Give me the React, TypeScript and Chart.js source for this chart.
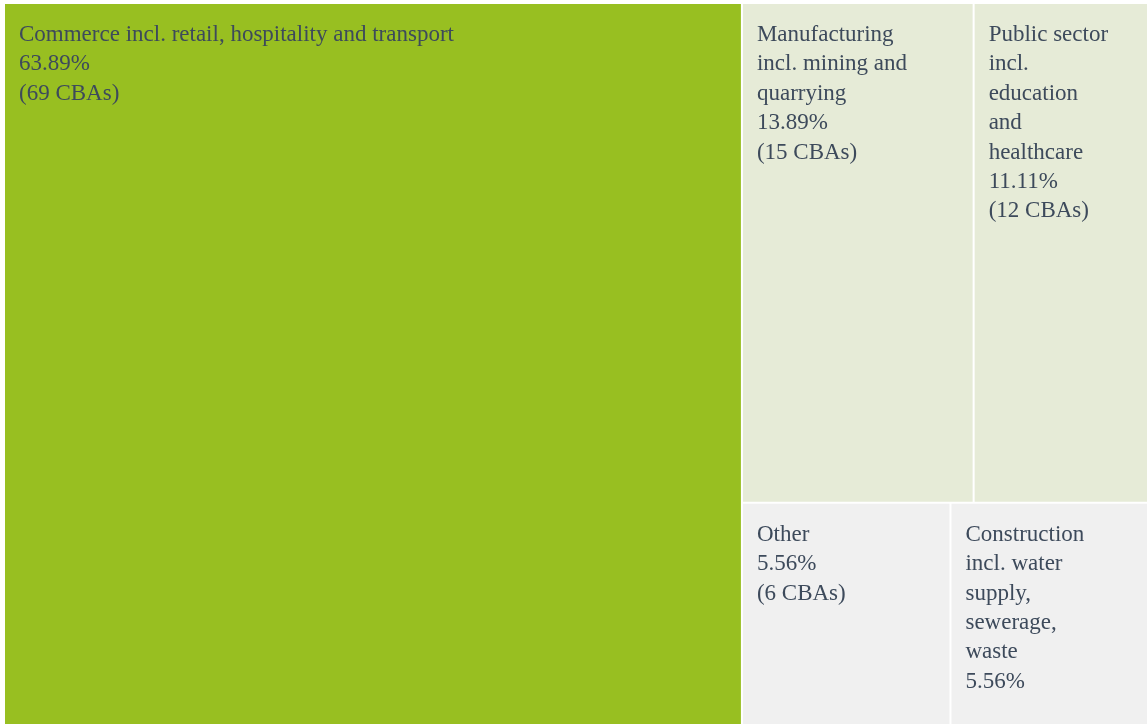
import React, { useEffect, useRef } from "react";
import { Chart, registerables, DatasetController } from "chart.js";

Chart.register(...registerables);

// ---- data ----
const categories: string[] = [
  "Commerce incl. retail, hospitality and transport",
  "Manufacturing incl. mining and quarrying",
  "Public sector incl. education and healthcare",
  "Other",
  "Construction incl. water supply, sewerage, waste",
];
const cbaCounts: number[] = [69, 15, 12, 6, 6];
const cellColors: string[] = ["#98BF21", "#E6EBD7", "#E6EBD7", "#F0F0F0", "#F0F0F0"];

// layout space (pixel-like units); the visible x range is slightly narrower (cropped chart)
const LAYOUT_W = 1155;
const LAYOUT_H = 722;
const VISIBLE_W = 1143;

const FONT = "23px 'Liberation Serif', 'Times New Roman', serif";
const TEXT_COLOR = "#3d4a5b";
const LINE_H = 29.4;
const PAD_X = 15;
const FIRST_LINE = 32;

type Rect = { x0: number; y0: number; x1: number; y1: number };

// d3-style squarified treemap (golden ratio)
function squarify(values: number[], X0: number, Y0: number, X1: number, Y1: number): Rect[] {
  const ratio = (1 + Math.sqrt(5)) / 2;
  const rects: Rect[] = values.map(() => ({ x0: 0, y0: 0, x1: 0, y1: 0 }));
  let x0 = X0, y0 = Y0;
  const x1 = X1, y1 = Y1;
  let value = values.reduce((a, b) => a + b, 0);
  let i0 = 0, i1 = 0;
  const n = values.length;
  while (i0 < n) {
    const dx = x1 - x0, dy = y1 - y0;
    let sumValue = values[i1++];
    let minValue = sumValue, maxValue = sumValue;
    const alpha = Math.max(dy / dx, dx / dy) / (value * ratio);
    let beta = sumValue * sumValue * alpha;
    let minRatio = Math.max(maxValue / beta, beta / minValue);
    for (; i1 < n; ++i1) {
      const nv = values[i1];
      sumValue += nv;
      if (nv < minValue) minValue = nv;
      if (nv > maxValue) maxValue = nv;
      beta = sumValue * sumValue * alpha;
      const newRatio = Math.max(maxValue / beta, beta / minValue);
      if (newRatio > minRatio) { sumValue -= nv; break; }
      minRatio = newRatio;
    }
    if (dx < dy) {
      const yk = y0 + (dy * sumValue) / value;
      let x = x0;
      for (let i = i0; i < i1; i++) {
        const w = (dx * values[i]) / sumValue;
        rects[i] = { x0: x, y0: y0, x1: x + w, y1: yk };
        x += w;
      }
      y0 = yk;
    } else {
      const xk = x0 + (dx * sumValue) / value;
      let y = y0;
      for (let i = i0; i < i1; i++) {
        const h = (dy * values[i]) / sumValue;
        rects[i] = { x0: x0, y0: y, x1: xk, y1: y + h };
        y += h;
      }
      x0 = xk;
    }
    value -= sumValue;
    i0 = i1;
  }
  return rects;
}

function wrap(ctx: CanvasRenderingContext2D, text: string, maxW: number): string[] {
  const words = text.split(" ");
  const lines: string[] = [];
  let cur = "";
  for (const w of words) {
    const test = cur ? cur + " " + w : w;
    if (cur && ctx.measureText(test).width > maxW) {
      lines.push(cur);
      cur = w;
    } else cur = test;
  }
  if (cur) lines.push(cur);
  return lines;
}

class TreemapController extends (DatasetController as any) {
  static id = "treemap";
  static defaults = { dataElementType: "bar", datasetElementType: false };
  static overrides = {};

  parsePrimitiveData(meta: any, data: any[], start: number, count: number) {
    const parsed: any[] = [];
    for (let i = 0; i < count; i++) parsed.push({ x: start + i, y: data[start + i] });
    return parsed;
  }

  update(mode: any) {
    const meta = this._cachedMeta;
    this.updateElements(meta.data, 0, meta.data.length, mode);
  }

  updateElements(rects: any[], start: number, count: number, mode: any) {
    const meta = this._cachedMeta;
    const xScale = meta.xScale, yScale = meta.yScale;
    const values: number[] = this.getDataset().data;
    const layout = squarify(values, 0, 0, LAYOUT_W, LAYOUT_H);
    for (let i = start; i < start + count; i++) {
      const r = layout[i];
      const left = xScale.getPixelForValue(r.x0);
      const right = xScale.getPixelForValue(r.x1);
      const top = yScale.getPixelForValue(r.y0);
      const bottom = yScale.getPixelForValue(r.y1);
      const options = this.resolveDataElementOptions(i, mode);
      this.updateElement(
        rects[i],
        i,
        {
          x: (left + right) / 2,
          y: top,
          base: bottom,
          width: right - left,
          height: bottom - top,
          horizontal: false,
          borderSkipped: {},
          inflateAmount: 0,
          enableBorderRadius: false,
          options,
        },
        mode
      );
    }
  }

  draw() {
    const meta = this._cachedMeta;
    const ctx: CanvasRenderingContext2D = this.chart.ctx;
    const values: number[] = this.getDataset().data;
    const total = values.reduce((a, b) => a + b, 0);
    meta.data.forEach((el: any) => el.draw(ctx));
    ctx.save();
    ctx.font = FONT;
    ctx.fillStyle = TEXT_COLOR;
    ctx.textBaseline = "middle";
    ctx.textAlign = "left";
    meta.data.forEach((el: any, i: number) => {
      const { x, y, base, width } = el;
      const left = x - width / 2;
      const top = Math.min(y, base);
      const bottom = Math.max(y, base);
      const lines = [
        ...wrap(ctx, categories[i], width - 60),
        ((values[i] / total) * 100).toFixed(2) + "%",
        "(" + values[i] + " CBAs)",
      ];
      lines.forEach((line, k) => {
        const cy = top + FIRST_LINE + k * LINE_H;
        if (cy + 26 <= bottom) ctx.fillText(line, left + PAD_X, cy);
      });
    });
    ctx.restore();
  }
}

Chart.register(TreemapController as any);

export default function App() {
  const ref = useRef<HTMLCanvasElement>(null);
  useEffect(() => {
    document.body.style.margin = "0";
    if (!ref.current) return;
    const chart = new Chart(ref.current, {
      type: "treemap" as any,
      data: {
        datasets: [
          {
            data: cbaCounts,
            backgroundColor: cellColors,
            borderColor: "#ffffff",
            borderWidth: 1,
          } as any,
        ],
      },
      options: {
        animation: false,
        responsive: false,
        events: [],
        layout: { padding: { left: 4, top: 3, right: 0, bottom: 1 } },
        plugins: { legend: { display: false }, tooltip: { enabled: false } },
        scales: {
          x: { type: "linear", display: false, min: 0, max: VISIBLE_W },
          y: { type: "linear", display: false, min: 0, max: LAYOUT_H, reverse: true },
        },
      } as any,
    });
    return () => chart.destroy();
  }, []);
  return (
    <div style={{ width: 1147, height: 726, background: "#ffffff" }}>
      <canvas ref={ref} width={1147} height={726} style={{ display: "block" }} />
    </div>
  );
}
